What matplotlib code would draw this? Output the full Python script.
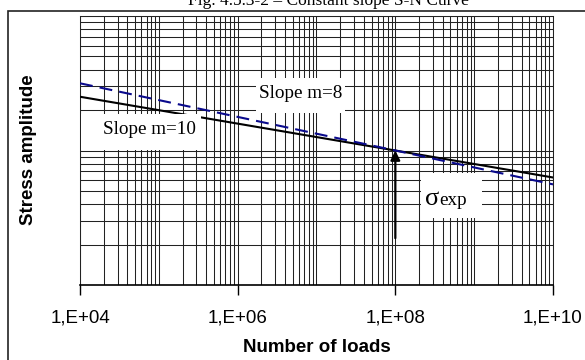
import matplotlib
matplotlib.use('Agg')
import matplotlib.pyplot as plt
from matplotlib.patches import Rectangle
from matplotlib.ticker import LogLocator, FixedLocator, NullFormatter, FuncFormatter

# S-N curves through the experimental point (N = 1e8)
n_loads = [1e4, 1e8, 1e10]
stress_m10 = [251, 100, 63]
stress_m8 = [316, 100, 56]
x_ticks = [1e4, 1e6, 1e8, 1e10]
x_tick_labels = ['1,E+04', '1,E+06', '1,E+08', '1,E+10']
sigma_exp = 100
arrow_from = 22.3

fig = plt.figure(figsize=(5.85, 3.6), dpi=100)
ax = fig.add_axes([80 / 585, 75 / 360, 473 / 585, 269 / 360])

grid_col = '#222222'
ax.set_xscale('log')
ax.set_yscale('log')
ax.set_xlim(1e4, 1e10)
ax.set_ylim(10, 1000)

ax.xaxis.set_major_locator(FixedLocator(x_ticks))
ax.xaxis.set_major_formatter(FuncFormatter(lambda v, p: x_tick_labels[x_ticks.index(v)] if v in x_ticks else ''))
ax.xaxis.set_minor_locator(LogLocator(base=10, subs=range(1, 10), numticks=100))
ax.xaxis.set_minor_formatter(NullFormatter())
ax.yaxis.set_major_locator(LogLocator(base=10, numticks=10))
ax.yaxis.set_minor_locator(LogLocator(base=10, subs=range(1, 10), numticks=100))
ax.yaxis.set_major_formatter(NullFormatter())
ax.yaxis.set_minor_formatter(NullFormatter())

ax.grid(True, which='both', color=grid_col, lw=0.75)
ax.tick_params(axis='x', which='major', length=7.5, width=1, color='k', pad=10,
               labelsize=13.5)
ax.tick_params(axis='x', which='minor', length=0)
ax.tick_params(axis='y', which='both', length=0)
for lab in ax.get_xticklabels():
    lab.set_fontfamily('Liberation Sans')

for side in ['top', 'right', 'left']:
    ax.spines[side].set_color(grid_col)
    ax.spines[side].set_linewidth(0.75)
ax.spines['bottom'].set_color('k')
ax.spines['bottom'].set_linewidth(1.2)

ax.plot(n_loads, stress_m10, color='black', lw=1.5, zorder=3)
ax.plot(n_loads, stress_m8, color='#0a0a8c', lw=1.5, ls=(0, (6.2, 3.4)), zorder=3)

ax.annotate('', xy=(n_loads[1], sigma_exp), xytext=(n_loads[1], arrow_from),
            arrowprops=dict(arrowstyle='-|>', color='black', lw=1.6,
                            mutation_scale=14, shrinkA=0, shrinkB=0), zorder=5)

# white label boxes (axes fractions)
def label_box(x0, x1, y0, y1):
    r = Rectangle(((x0 - 80) / 473, (285 - y1) / 269), (x1 - x0) / 473, (y1 - y0) / 269,
                  transform=ax.transAxes, facecolor='white', edgecolor='none',
                  zorder=4, clip_on=False)
    ax.add_patch(r)

label_box(256, 345, 78, 113)
label_box(80.5, 201, 114, 150)
label_box(421, 482, 173, 218)

serif = 'Liberation Serif'
ax.text((259 - 80) / 473, (285 - 94) / 269, 'Slope m=8', transform=ax.transAxes,
        fontsize=13.8, family=serif, va='center', ha='left', zorder=6)
ax.text((103 - 80) / 473, (285 - 130) / 269, 'Slope m=10', transform=ax.transAxes,
        fontsize=13.8, family=serif, va='center', ha='left', zorder=6)
# sigma drawn larger than the subscript-like "exp"
ax.text((425 - 80) / 473, (285 - 205) / 269, 'σ', transform=ax.transAxes,
        fontsize=19, family=serif, va='baseline', ha='left', zorder=6)
ax.text((439 - 80) / 473, (285 - 205) / 269, 'exp', transform=ax.transAxes,
        fontsize=13.8, family=serif, va='baseline', ha='left', zorder=6)

fig.text(317 / 585, 1 - 347 / 360, 'Number of loads', ha='center', va='center',
         fontsize=13.5, fontweight='bold', family='Liberation Sans')
fig.text(29 / 585, 1 - 150 / 360, 'Stress amplitude', ha='center', va='center',
         rotation=90, fontsize=13.5, fontweight='bold', family='Liberation Sans')

# title, partly above the top edge
fig.text(328 / 585, 1 - 5 / 360, 'Fig. 4.5.3-2 \u2013 Constant slope S-N Curve',
         ha='center', va='baseline', fontsize=12.5, family=serif)

# outer frame
fig.patches.append(Rectangle((7.5 / 585, -0.1), 1.0, 1 - 10.5 / 360 + 0.1,
                             transform=fig.transFigure, fill=False,
                             edgecolor='#222222', lw=1.2))

fig.savefig('out.png', dpi=100)
